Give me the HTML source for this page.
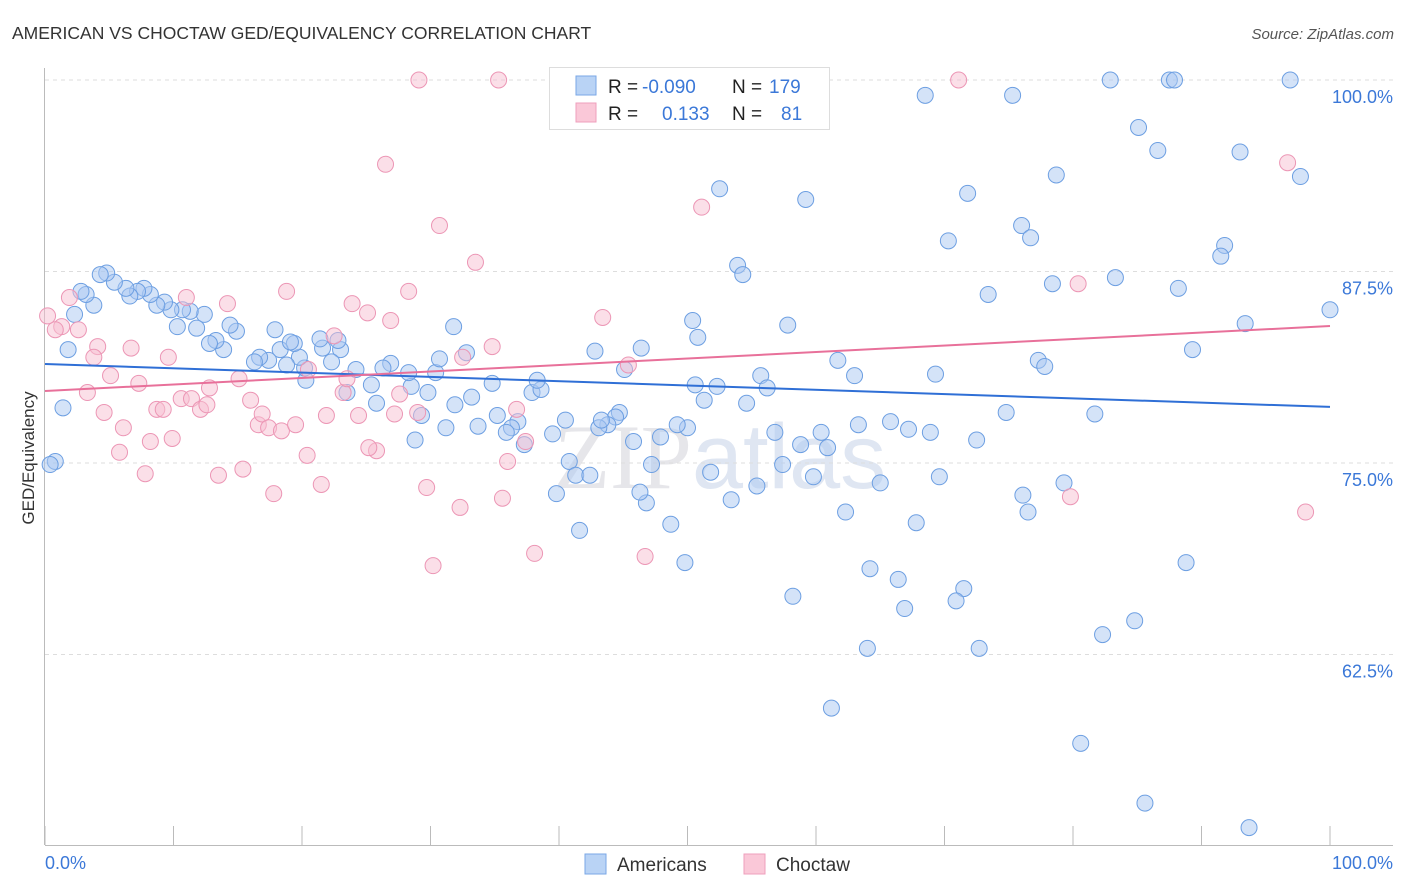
<!DOCTYPE html>
<html><head><meta charset="utf-8"><style>
body{margin:0;background:#fff;font-family:"Liberation Sans",sans-serif;}
svg{display:block}
</style></head><body>
<svg id="chart" width="1406" height="892">
<text x="12" y="39" font-size="17.5" fill="#333">AMERICAN VS CHOCTAW GED/EQUIVALENCY CORRELATION CHART</text>
<text x="1394" y="39" font-size="15" fill="#555" font-style="italic" text-anchor="end">Source: ZipAtlas.com</text>
<text x="720" y="488" font-size="92" fill="#e6e6ea" text-anchor="middle" font-family="Liberation Serif,serif">ZIP<tspan font-family="Liberation Sans,sans-serif" fill="#dfe6f2">atlas</tspan></text>
<g id="grid"></g><g id="axes"></g><g id="pts"></g><g id="trends"></g>
<text transform="translate(34,458) rotate(-90)" font-size="17" fill="#333" text-anchor="middle">GED/Equivalency</text>
<text x="45" y="869" font-size="18" fill="#3b78d8">0.0%</text>
<text x="1393" y="869" font-size="18" fill="#3b78d8" text-anchor="end">100.0%</text>
<g>
<rect x="549.5" y="67.5" width="280" height="62" fill="#fff" stroke="#ddd"/>
<rect x="576" y="76" width="20" height="19" fill="#b9d3f5" stroke="#7aa7e6"/>
<rect x="576" y="103" width="20" height="19" fill="#fac8d8" stroke="#ef9fbc"/>
<text x="608" y="93" font-size="19" fill="#222">R = <tspan x="642" fill="#3b78d8">-0.090</tspan><tspan x="732" fill="#222">N = </tspan><tspan x="769" fill="#3b78d8">179</tspan></text>
<text x="608" y="120" font-size="19" fill="#222">R = <tspan x="662" fill="#3b78d8">0.133</tspan><tspan x="732" fill="#222">N = </tspan><tspan x="781" fill="#3b78d8">81</tspan></text>
</g>
<g>
<rect x="585" y="854" width="21" height="20" fill="#b9d3f5" stroke="#7aa7e6"/>
<text x="617" y="871" font-size="19" fill="#333">Americans</text></g>
<g>
<rect x="744" y="854" width="21" height="20" fill="#fac8d8" stroke="#ef9fbc"/>
<text x="776" y="871" font-size="19" fill="#333">Choctaw</text></g>
</svg>
<script>
const yTicks=[100,87.5,75,62.5];
const yTickLabels=["100.0%","87.5%","75.0%","62.5%"];
const xTicks=[0,10,20,30,40,50,60,70,80,90,100];
const blueX=[82.9,87.5,87.9,96.9,68.5,75.3,85.1,86.6,93.0,78.7,97.7,52.5,59.2,71.8,76.0,76.7,70.3,91.8,91.5,53.9,54.3,83.3,78.4,88.2,73.4,100,50.4,57.8,93.4,50.8,89.3,77.3,77.8,61.7,63.0,69.3,55.7,52.3,56.2,51.3,54.6,74.8,81.7,65.8,72.5,67.2,68.9,79.3,76.1,76.5,69.6,65.0,62.3,67.8,56.8,60.4,58.8,60.9,57.4,59.8,51.8,53.4,55.4,48.7,49.8,64.2,66.4,58.2,71.5,70.9,66.9,64.0,72.7,82.3,84.8,88.8,61.2,80.6,85.6,93.7,63.3,50.0,49.2,47.9,45.8,47.2,46.8,44.7,44.4,43.8,43.1,40.5,41.6,39.8,40.8,41.3,42.4,39.5,37.9,38.6,38.3,37.3,36.8,36.3,35.9,35.2,34.8,33.7,33.2,31.9,31.2,28.8,29.3,29.8,30.4,30.7,31.8,32.8,28.5,28.3,26.9,26.3,25.8,25.4,24.2,23.5,23.0,22.8,22.3,21.6,21.4,20.3,20.2,19.8,19.4,18.8,18.3,17.9,17.4,16.7,16.3,14.9,14.4,13.9,13.3,12.8,12.4,11.8,11.3,10.7,10.3,9.8,9.3,8.7,8.2,7.7,7.2,6.6,6.3,5.4,4.8,4.3,3.8,3.2,2.8,2.3,1.8,1.4,0.8,0.4,19.1,43.3,45.1,46.4,42.8,46.3,50.6];
const blueY=[100,100,100,100,99.0,99.0,96.9,95.4,95.3,93.8,93.7,92.9,92.2,92.6,90.5,89.7,89.5,89.2,88.5,87.9,87.3,87.1,86.7,86.4,86.0,85.0,84.3,84.0,84.1,83.2,82.4,81.7,81.3,81.7,80.7,80.8,80.7,80.0,79.9,79.1,78.9,78.3,78.2,77.7,76.5,77.2,77.0,73.7,72.9,71.8,74.1,73.7,71.8,71.1,77.0,77.0,76.2,76.0,74.9,74.1,74.4,72.6,73.5,71.0,68.5,68.1,67.4,66.3,66.8,66.0,65.5,62.9,62.9,63.8,64.7,68.5,59.0,56.7,52.8,51.2,77.5,77.3,77.5,76.7,76.4,74.9,72.4,78.3,78.0,77.5,77.3,77.8,70.6,73.0,75.1,74.2,74.2,76.9,79.6,79.8,80.4,76.2,77.7,77.3,77.0,78.1,80.2,77.4,79.3,78.8,77.3,76.5,78.1,79.6,80.9,81.8,83.9,82.2,80.0,80.9,81.5,81.2,78.9,80.1,81.1,79.6,82.4,83.0,81.6,82.5,83.1,80.4,81.2,81.9,82.8,81.4,82.4,83.7,81.7,81.9,81.6,83.6,84.0,82.4,83.0,82.8,84.7,83.8,84.9,85.0,83.9,85.0,85.5,85.3,86.0,86.4,86.2,85.9,86.4,86.8,87.4,87.3,85.3,86.0,86.2,84.7,82.4,78.6,75.1,74.9,82.9,77.8,81.1,82.5,82.3,73.1,80.1];
const pinkX=[29.1,35.3,71.1,26.5,30.7,51.1,33.5,18.8,28.3,23.9,25.1,26.9,22.5,32.5,34.8,43.4,45.4,80.4,96.7,79.8,98.1,46.7,38.1,30.2,32.3,35.6,29.7,36.0,25.8,21.5,17.8,15.4,13.5,7.8,5.8,9.9,8.2,6.1,4.6,3.3,1.3,0.8,0.2,1.9,2.6,4.1,3.8,5.1,6.7,7.3,8.7,9.2,9.6,10.6,11.0,11.4,12.1,12.6,12.8,14.2,15.1,16.0,16.6,16.9,17.4,18.4,19.5,20.4,20.5,21.9,23.2,23.5,24.4,25.2,27.2,27.6,29.0,36.7,37.4];
const pinkY=[100,100,100,94.5,90.5,91.7,88.1,86.2,86.2,85.4,84.8,84.3,83.3,81.9,82.6,84.5,81.4,86.7,94.6,72.8,71.8,68.9,69.1,68.3,72.1,72.7,73.4,75.1,75.8,73.6,73.0,74.6,74.2,74.3,75.7,76.6,76.4,77.3,78.3,79.6,83.9,83.7,84.6,85.8,83.7,82.6,81.9,80.7,82.5,80.2,78.5,78.5,81.9,79.2,85.8,79.2,78.5,78.8,79.9,85.4,80.5,79.1,77.5,78.2,77.3,77.1,77.5,75.5,81.1,78.1,79.6,80.5,78.1,76.0,78.2,79.5,78.3,78.5,76.4];
const blueTrend=[81.46,78.66];
const pinkTrend=[79.7,83.94];
const NS='http://www.w3.org/2000/svg';
const X=v=>45+v*12.85;
const Y=v=>80+(100-v)*15.32;
function mk(tag,attrs,parent){const e=document.createElementNS(NS,tag);for(const k in attrs)e.setAttribute(k,attrs[k]);parent.appendChild(e);return e;}
const grid=document.getElementById('grid'),axes=document.getElementById('axes'),pts=document.getElementById('pts'),tr=document.getElementById('trends');
yTicks.forEach((t,i)=>{
 const l=mk('line',{x1:45,x2:1393,y1:Y(t),y2:Y(t),stroke:'#ddd','stroke-dasharray':'4,4'},grid);
 
 
 const tx=mk('text',{x:1393,y:Y(t)+23,'font-size':18,fill:'#3b78d8','text-anchor':'end'},grid);
 tx.textContent=yTickLabels[i];
 
 
});
const xa=mk('line',{x1:45,x2:1393,y1:845.5,y2:845.5,stroke:'#bbb'},axes);


const ya=mk('line',{x1:44.5,x2:44.5,y1:68,y2:845,stroke:'#bbb'},axes);


xTicks.forEach(t=>{
 const l=mk('line',{x1:X(t),x2:X(t),y1:826,y2:845,stroke:'#bbb'},axes);
 
 
});
function dots(xs,ys,fill,stroke,name){
 xs.forEach((x,i)=>{
  const c=mk('circle',{cx:X(x),cy:Y(ys[i]),r:8,fill:fill,'fill-opacity':0.5,stroke:stroke,'stroke-width':1},pts);
  
  
 });
}
dots(blueX,blueY,'#a9c8f2','#6d9fe2','americans-point');
dots(pinkX,pinkY,'#f8bfd2','#ec96b5','choctaw-point');
const bl=mk('line',{x1:X(0),y1:Y(blueTrend[0]),x2:X(100),y2:Y(blueTrend[1]),stroke:'#2f6fd6','stroke-width':2},tr);


const pl=mk('line',{x1:X(0),y1:Y(pinkTrend[0]),x2:X(100),y2:Y(pinkTrend[1]),stroke:'#e8709a','stroke-width':2},tr);


</script>
</body></html>
